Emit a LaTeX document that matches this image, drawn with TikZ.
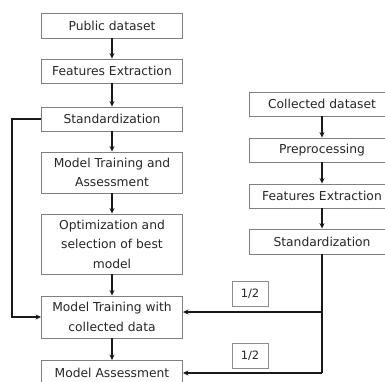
\documentclass[tikz,border=0pt]{standalone}
\usepackage{fontspec}
\setmainfont{DejaVu Sans}
\usetikzlibrary{arrows.meta}
\begin{document}
\begin{tikzpicture}[x=1pt,y=-1pt,
  box/.style={draw=black!50, line width=0.9pt, fill=white, align=center, inner sep=0pt,
     text=black!85, font=\fontsize{12.3}{19.5}\selectfont},
  lbox/.style={box, minimum width=141pt},
  rbox/.style={box, minimum width=146pt},
  frac/.style={draw=black!45, line width=0.9pt, minimum width=36pt, minimum height=25pt, inner sep=0pt,
     text=black!85, font=\fontsize{11.5}{13}\selectfont},
  conn/.style={draw=black!90, line width=1.4pt, -{Stealth[length=5.5pt,width=5pt]}},
  plain/.style={draw=black!90, line width=1.4pt}]
\useasboundingbox (0,0) rectangle (385,381);
\node[lbox, minimum height=25pt] (pub) at (112,25.5) {Public dataset};
\node[lbox, minimum height=24pt] (fe) at (112,71) {Features Extraction};
\node[lbox, minimum height=24pt] (std) at (112,119) {Standardization};
\node[lbox, minimum height=41pt] (mta) at (112,172.5) {Model Training and\\Assessment};
\node[lbox, minimum height=60pt] (opt) at (112,244) {Optimization and\\selection of best\\model};
\node[lbox, minimum height=42pt] (mtc) at (112,317) {Model Training with\\collected data};
\node[lbox, minimum height=25pt] (ma) at (112,373) {Model Assessment};
\node[rbox, minimum height=24pt] (col) at (322,104) {Collected dataset};
\node[rbox, minimum height=24pt] (pre) at (322,150) {Preprocessing};
\node[rbox, minimum height=24pt] (fe2) at (322,196) {Features Extraction};
\node[rbox, minimum height=25pt] (std2) at (322,241.5) {Standardization};
\node[frac] (h1) at (250,293.5) {1/2};
\node[frac] (h2) at (250,355.5) {1/2};
\coordinate (lc) at (12,119);
\coordinate (j1) at (322,312);
\coordinate (j2) at (322,373);
\draw[conn] (pub) -- (fe);
\draw[conn] (fe) -- (std);
\draw[conn] (std) -- (mta);
\draw[conn] (mta) -- (opt);
\draw[conn] (opt) -- (mtc);
\draw[conn] (mtc) -- (ma);
\draw[conn] (col) -- (pre);
\draw[conn] (pre) -- (fe2);
\draw[conn] (fe2) -- (std2);
\draw[conn] (std.west) -- (lc) |- (mtc.west);
\draw[plain] (std2.south) -- (j2);
\draw[conn] (j2) -- (ma.east);
\draw[conn] (j1) -- (j1 -| mtc.east);
\end{tikzpicture}
\end{document}
